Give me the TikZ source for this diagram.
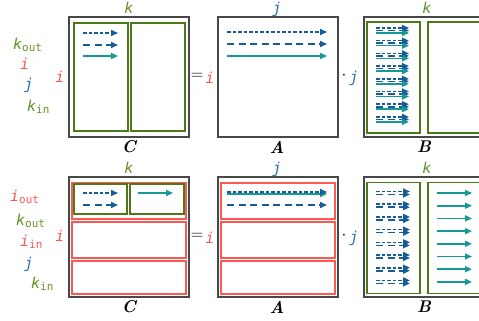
\documentclass[tikz,border=0pt]{standalone}
\usepackage{fontspec}
\setmonofont{DejaVu Sans Mono}
\usetikzlibrary{arrows.meta}
\definecolor{matgray}{RGB}{72,72,72}
\definecolor{blkgreen}{RGB}{76,122,24}
\definecolor{kgreen}{RGB}{98,150,40}
\definecolor{ired}{RGB}{255,88,82}
\definecolor{jblue}{RGB}{42,112,180}
\definecolor{arrblue}{RGB}{22,92,152}
\definecolor{arrteal}{RGB}{22,152,150}
\newcommand{\vsub}[2]{#1{\fontsize{11}{12}\selectfont\upshape\raisebox{-0.4ex}{#2}}}
\begin{document}
\begin{tikzpicture}[x=1pt,y=-1pt,
    mat/.style={draw=matgray, line width=2.6pt, minimum width=120pt, minimum height=120pt, inner sep=0},
    blk/.style={draw=blkgreen, line width=1.8pt, inner sep=0, minimum width=54pt},
    rowbox/.style={draw=ired, line width=1.8pt, inner sep=0, minimum width=114pt},
    arr/.style={-{Triangle[length=7pt,width=6pt]}, line width=1.6pt},
    dotarr/.style={arr, arrblue, dash pattern=on 3.5pt off 2pt},
    dasharr/.style={arr, arrblue, dash pattern=on 7pt off 4.5pt},
    solarr/.style={arr, arrteal},
    lbl/.style={font=\fontsize{15}{17}\selectfont\ttfamily\itshape, inner sep=0},
    opsym/.style={font=\fontsize{16}{18}\selectfont, inner sep=0},
    matname/.style={font=\fontsize{17}{20}\selectfont\bfseries\itshape, inner sep=0}]
    \useasboundingbox (0,0) rectangle (479,321);
    % top row: C = A . B
    \node[mat] (C) at (129,77) {};
    \node[blk, minimum height=108pt] (Cl) at (101,77) {};
    \node[blk, minimum height=108pt] (Cr) at (158,77) {};
    \node[mat] (A) at (278,77) {};
    \node[mat] (B) at (424,77) {};
    \node[blk, minimum width=53pt, minimum height=111pt] (Bl) at (393.5,77.5) {};
    \node[blk, minimum width=53pt, minimum height=111pt] (Br) at (454.5,77.5) {};
    \draw[dotarr] (83,33) -- (118,33);
    \draw[dasharr] (83,45) -- (118,45);
    \draw[solarr] (83,56) -- (118,56);
    \draw[dotarr] (227,32) -- (327,32);
    \draw[dasharr] (227,44) -- (327,44);
    \draw[solarr] (227,56) -- (327,56);
    \foreach \i in {0,...,7} {
        \draw[dotarr] (376,{28+12.7*\i}) -- (409,{28+12.7*\i});
        \draw[dasharr] (376,{30.5+12.7*\i}) -- (409,{30.5+12.7*\i});
        \draw[solarr] (376,{33+12.7*\i}) -- (409,{33+12.7*\i});
    }
    \node[lbl, kgreen] (Ck) at (129,8) {k};
    \node[lbl, jblue] (Aj) at (277,9) {j};
    \node[lbl, kgreen] (Bk) at (427,8) {k};
    \node[matname] (Cn) at (129,147) {C};
    \node[matname] (An) at (277,147) {A};
    \node[matname] (Bn) at (424,147) {B};
    \node[lbl, ired] (Ci) at (60,77) {i};
    \node[opsym] (eq) at (197,76) {$=$};
    \node[lbl, ired] (Ai) at (210,78) {i};
    \node[opsym] (dt) at (344,76) {$\cdot$};
    \node[lbl, jblue] (Bj) at (354,78) {j};
    \node[lbl, kgreen, anchor=west] (o1) at (13,45) {\vsub{k}{out}};
    \node[lbl, ired, anchor=west] (o2) at (20,64) {i};
    \node[lbl, jblue, anchor=west] (o3) at (24,85) {j};
    \node[lbl, kgreen, anchor=west] (o4) at (27,107) {\vsub{k}{in}};
    % bottom row: tiled over i
    \node[mat] (C2) at (129,237) {};
    \node[rowbox, minimum height=36pt] (Cr1) at (129,201) {};
    \node[rowbox, minimum height=36pt] (Cr2) at (129,240) {};
    \node[rowbox, minimum height=33pt] (Cr3) at (129,277.5) {};
    \node[blk, minimum width=53pt, minimum height=30pt] (Cl2) at (100.5,199) {};
    \node[blk, minimum width=54pt, minimum height=30pt] (Cr2b) at (157,199) {};
    \node[mat] (A2) at (278,237) {};
    \node[rowbox, minimum height=36pt] (Ar1) at (278,201) {};
    \node[rowbox, minimum height=36pt] (Ar2) at (278,240) {};
    \node[rowbox, minimum height=33pt] (Ar3) at (278,277.5) {};
    \node[mat] (B2) at (424,237) {};
    \node[blk, minimum width=53pt, minimum height=111pt] (Bl2) at (393.5,238) {};
    \node[blk, minimum width=53pt, minimum height=111pt] (Br2) at (454.5,238) {};
    \draw[dotarr] (83,193) -- (118,193);
    \draw[dasharr] (83,205) -- (118,205);
    \draw[solarr] (138,193) -- (173,193);
    \draw[solarr] (227,194) -- (327,194);
    \draw[dotarr] (227,192) -- (327,192);
    \draw[dasharr] (227,205) -- (327,205);
    \foreach \i in {0,...,7} {
        \draw[dotarr] (376,{191.5+12.7*\i}) -- (410,{191.5+12.7*\i});
        \draw[dasharr] (376,{194.5+12.7*\i}) -- (410,{194.5+12.7*\i});
        \draw[solarr] (437,{193+12.7*\i}) -- (472,{193+12.7*\i});
    }
    \node[lbl, kgreen] (Ck2) at (129,168) {k};
    \node[lbl, jblue] (Aj2) at (277,169) {j};
    \node[lbl, kgreen] (Bk2) at (427,168) {k};
    \node[matname] (Cn2) at (129,307) {C};
    \node[matname] (An2) at (277,307) {A};
    \node[matname] (Bn2) at (424,307) {B};
    \node[lbl, ired] (Ci2) at (60,236) {i};
    \node[opsym] (eq2) at (197,236) {$=$};
    \node[lbl, ired] (Ai2) at (210,238) {i};
    \node[opsym] (dt2) at (344,236) {$\cdot$};
    \node[lbl, jblue] (Bj2) at (354,238) {j};
    \node[lbl, ired, anchor=west] (p1) at (10,197) {\vsub{i}{out}};
    \node[lbl, kgreen, anchor=west] (p2) at (16,221) {\vsub{k}{out}};
    \node[lbl, ired, anchor=west] (p3) at (20,242) {\vsub{i}{in}};
    \node[lbl, jblue, anchor=west] (p4) at (24,264) {j};
    \node[lbl, kgreen, anchor=west] (p5) at (31,284) {\vsub{k}{in}};
\end{tikzpicture}
\end{document}
